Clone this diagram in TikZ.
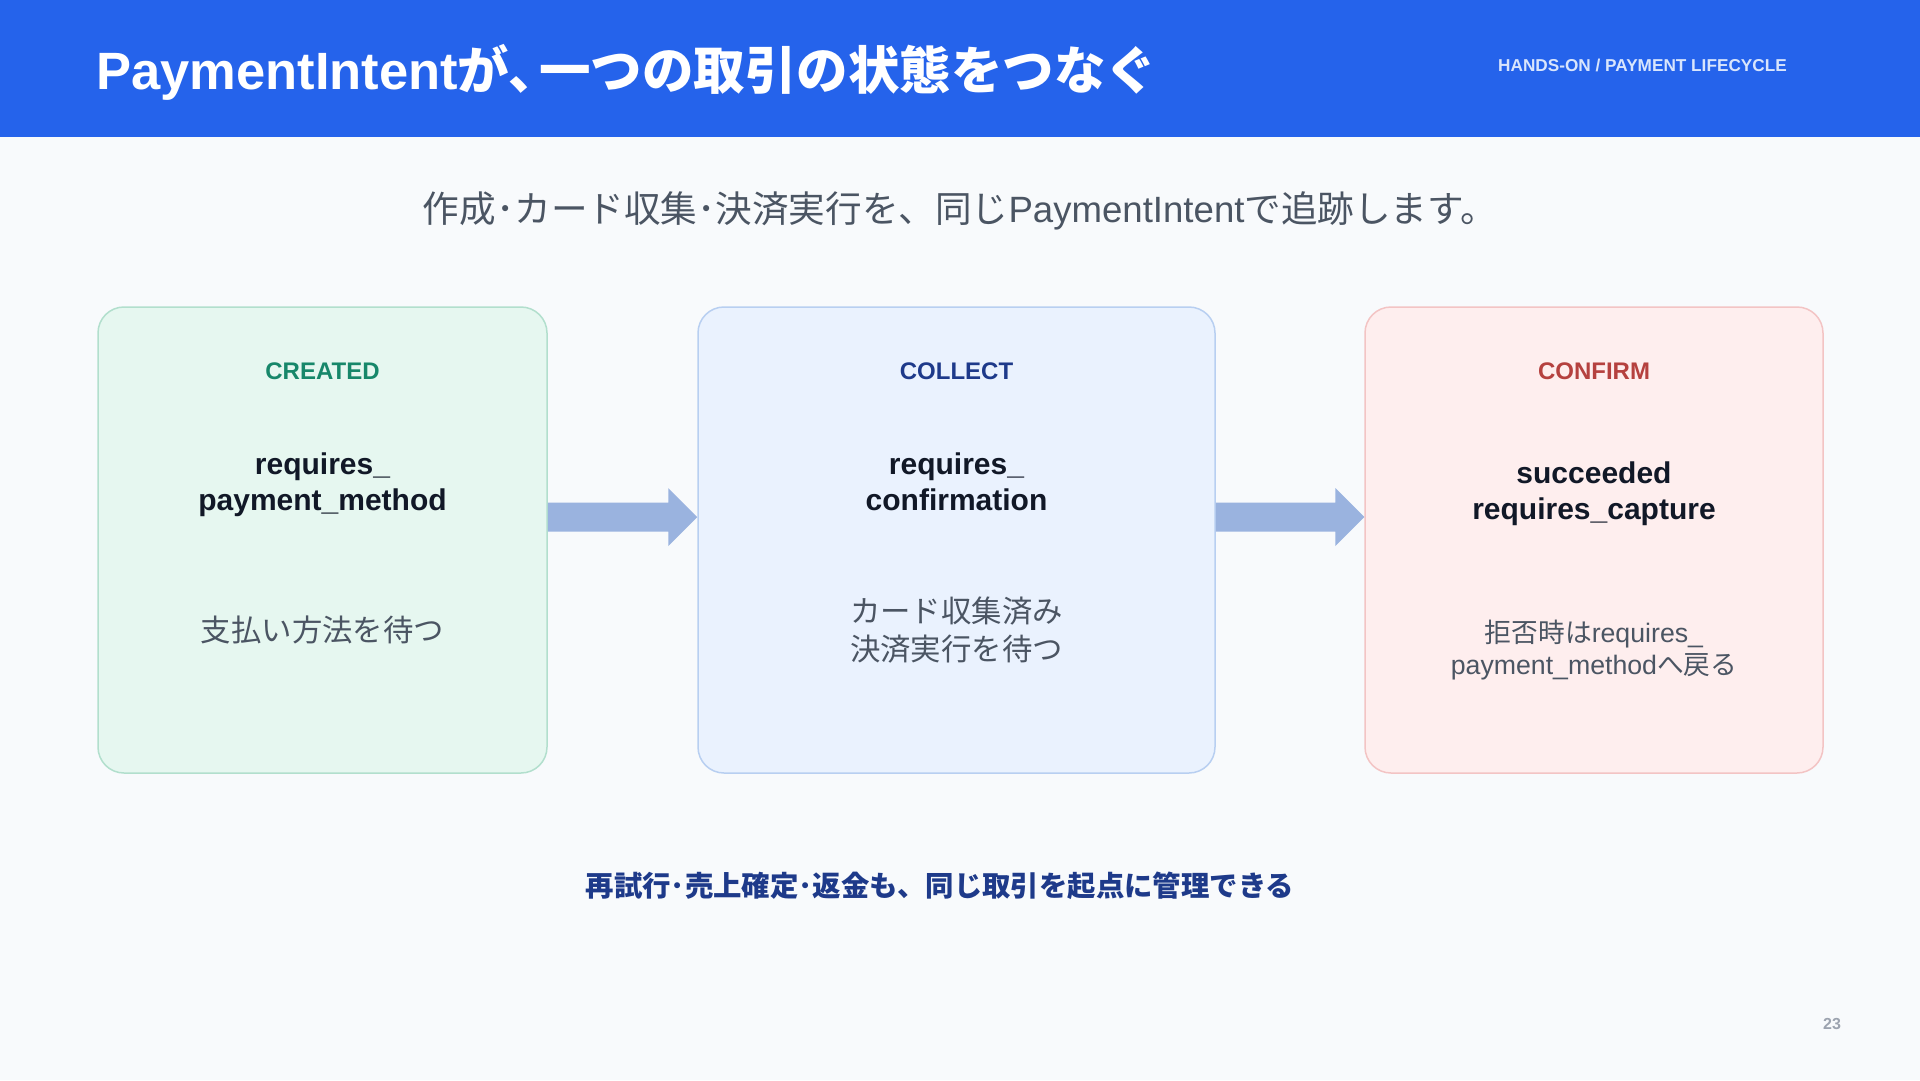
\documentclass[tikz,border=0pt]{standalone}
\usepackage{fontspec}
\setmainfont{Liberation Sans}
\newfontfamily\jp{Noto Sans CJK JP}
\usetikzlibrary{calc}
\definecolor{hdr}{HTML}{2563EB}
\definecolor{bgc}{HTML}{F8FAFC}
\definecolor{gfill}{HTML}{E6F7F0}
\definecolor{gline}{HTML}{B2DFCD}
\definecolor{bfill}{HTML}{EAF2FE}
\definecolor{bline}{HTML}{B8CFF1}
\definecolor{rfill}{HTML}{FEEEEE}
\definecolor{rline}{HTML}{F3C4C4}
\definecolor{arrc}{HTML}{9AB3DF}
\definecolor{gtxt}{HTML}{17876A}
\definecolor{btxt}{HTML}{1E3A8A}
\definecolor{rtxt}{HTML}{B5413F}
\definecolor{dtxt}{HTML}{111827}
\definecolor{mtxt}{HTML}{4B5563}
\definecolor{htxt}{HTML}{D9E5FC}
\definecolor{pgtxt}{HTML}{9CA3AF}
\tikzset{
  stagebox/.style={draw, line width=1.5pt, rounded corners=26pt, minimum width=#1, minimum height=466pt, inner sep=0pt},
  tag/.style={font=\bfseries\fontsize{24}{28}\selectfont},
  state/.style={font=\bfseries\fontsize{30}{36}\selectfont, text=dtxt, align=center},
  desc/.style={font=\fontsize{30.4}{38}\selectfont, text=mtxt, align=center},
  blockarrow/.style={fill=arrc},
}
\begin{document}
\begin{tikzpicture}[x=1pt,y=-1pt]
\useasboundingbox (0,0) rectangle (1920,1080);
\fill[bgc] (0,0) rectangle (1920,1080);
\fill[hdr] (0,0) rectangle (1920,137);
\node[anchor=base west, inner sep=0pt, text=white, font=\bfseries\fontsize{52.5}{60}\selectfont] (title) at (96,89) {PaymentIntent{\jp\bfseries\fontsize{51.5}{60}\selectfont が､\hspace{4pt}一つの取引の状態をつなぐ}};
\node[anchor=east, inner sep=0pt, text=htxt, font=\bfseries\fontsize{17.2}{20}\selectfont] (hdrtag) at (1787,65) {HANDS-ON / PAYMENT LIFECYCLE};
\node[inner sep=0pt, text=mtxt, font=\fontsize{36.6}{42}\selectfont] (sub) at (960,211) {{\jp 作成･カード収集･決済実行を、同じ}PaymentIntent{\jp で追跡します。}};

\node[stagebox=449pt, fill=gfill, draw=gline] (b1) at (322.5,540) {};
\node[stagebox=517pt, fill=bfill, draw=bline] (b2) at (956.5,540) {};
\node[stagebox=458pt, fill=rfill, draw=rline] (b3) at (1594,540) {};

\node[tag, text=gtxt] (t1) at (322.5,371) {CREATED};
\node[tag, text=btxt] (t2) at (956.5,371) {COLLECT};
\node[tag, text=rtxt] (t3) at (1594,371) {CONFIRM};

\node[state] (s1) at (322.5,484.5) {requires\_\\payment\_method};
\node[state] (s2) at (956.5,482) {requires\_\\confirmation};
\node[state] (s3) at (1594,493.5) {succeeded\\requires\_capture};

\node[desc] (d1) at (322.5,630) {\jp 支払い方法を待つ};
\node[desc] (d2) at (956.5,630) {\jp カード収集済み\\\jp 決済実行を待つ};
\node[desc, font=\fontsize{26.7}{32}\selectfont] (d3) at (1594,650) {{\jp 拒否時は}requires\_\\payment\_method{\jp へ戻る}};

\coordinate (a1s) at ($(b1.east)+(0,-23)$);
\coordinate (a1e) at ($(b2.west)+(0,-23)$);
\coordinate (a2s) at ($(b2.east)+(0,-23)$);
\coordinate (a2e) at ($(b3.west)+(0,-23)$);
\fill[blockarrow] ($(a1s)+(0,-14.5)$) -- ($(a1e)+(-29,-14.5)$) -- ($(a1e)+(-29,-29)$) -- (a1e) -- ($(a1e)+(-29,29)$) -- ($(a1e)+(-29,14.5)$) -- ($(a1s)+(0,14.5)$) -- cycle;
\fill[blockarrow] ($(a2s)+(0,-14.5)$) -- ($(a2e)+(-29,-14.5)$) -- ($(a2e)+(-29,-29)$) -- (a2e) -- ($(a2e)+(-29,29)$) -- ($(a2e)+(-29,14.5)$) -- ($(a2s)+(0,14.5)$) -- cycle;

\node[inner sep=0pt, text=btxt, font=\jp\bfseries\fontsize{28.4}{34}\selectfont] (foot) at (940,886) {再試行･売上確定･返金も、同じ取引を起点に管理できる};
\node[inner sep=0pt, text=pgtxt, font=\bfseries\fontsize{16}{20}\selectfont] (pg) at (1832,1024) {23};
\end{tikzpicture}
\end{document}
